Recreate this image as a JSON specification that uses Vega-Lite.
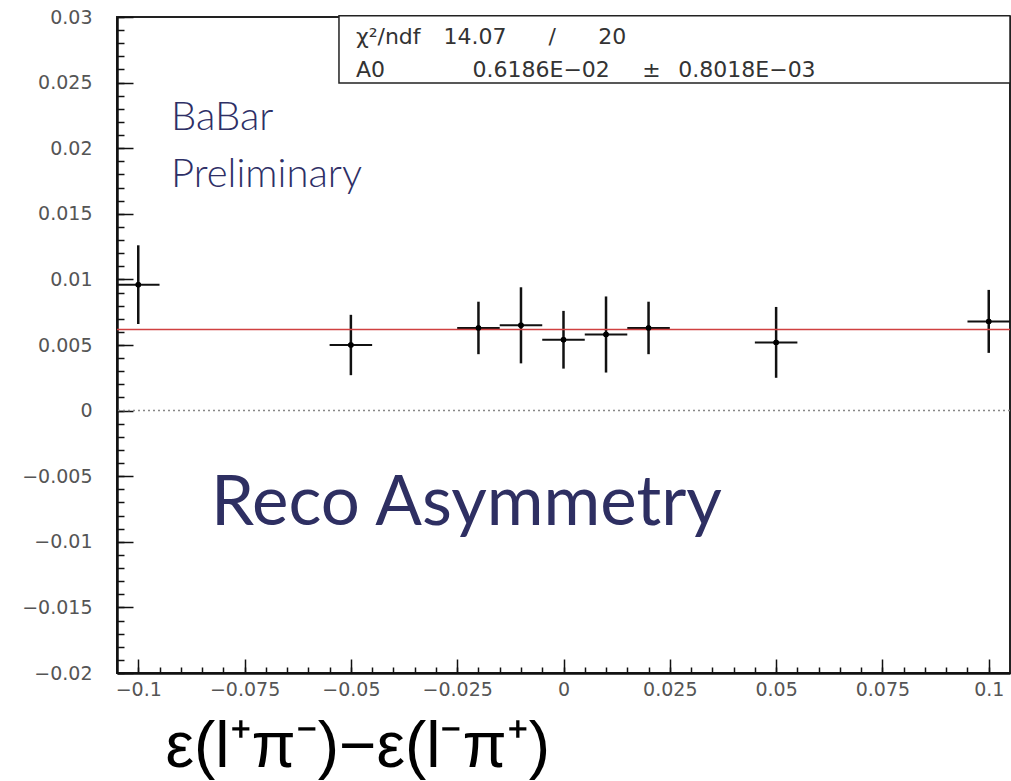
{
  "$schema": "https://vega.github.io/schema/vega-lite/v6.json",
  "autosize": {"type": "none"},
  "padding": {"left": 117, "top": 17, "right": 1, "bottom": 108},
  "width": 893,
  "height": 656,
  "background": "white",
  "config": {
    "view": {"stroke": "#222", "strokeWidth": 2},
    "font": "Liberation Sans",
    "axis": {
      "tickColor": "#111",
      "tickWidth": 1.5,
      "domainColor": "#111",
      "domainWidth": 2.5,
      "labelFontSize": 19,
      "labelColor": "#555",
      "labelFont": "DejaVu Sans",
      "labelFlush": false,
      "labelOverlap": false,
      "grid": false
    }
  },
  "resolve": {"axis": {"x": "independent", "y": "independent"}},
  "datasets": {
    "points": [
      {"x": -0.1, "y": 0.0096, "ylo": 0.0066, "yhi": 0.0126, "xlo": -0.105, "xhi": -0.095},
      {"x": -0.05, "y": 0.0050, "ylo": 0.0027, "yhi": 0.0073, "xlo": -0.055, "xhi": -0.045},
      {"x": -0.02, "y": 0.0063, "ylo": 0.0043, "yhi": 0.0083, "xlo": -0.025, "xhi": -0.015},
      {"x": -0.01, "y": 0.0065, "ylo": 0.0036, "yhi": 0.0094, "xlo": -0.015, "xhi": -0.005},
      {"x": 0.0, "y": 0.0054, "ylo": 0.0032, "yhi": 0.0076, "xlo": -0.005, "xhi": 0.005},
      {"x": 0.01, "y": 0.0058, "ylo": 0.0029, "yhi": 0.0087, "xlo": 0.005, "xhi": 0.015},
      {"x": 0.02, "y": 0.0063, "ylo": 0.0043, "yhi": 0.0083, "xlo": 0.015, "xhi": 0.025},
      {"x": 0.05, "y": 0.0052, "ylo": 0.0025, "yhi": 0.0079, "xlo": 0.045, "xhi": 0.055},
      {"x": 0.1, "y": 0.0068, "ylo": 0.0044, "yhi": 0.0092, "xlo": 0.095, "xhi": 0.105}
    ],
    "box": [
      {"x1": -0.0528, "x2": 0.105, "y1": 0.02497, "y2": 0.0301}
    ],
    "stats": [
      {"x": -0.0488, "y": 0.02794, "t": "χ²/ndf"},
      {"x": -0.0282, "y": 0.02794, "t": "14.07"},
      {"x": -0.0035, "y": 0.02794, "t": "/"},
      {"x": 0.0082, "y": 0.02794, "t": "20"},
      {"x": -0.0488, "y": 0.02543, "t": "A0"},
      {"x": -0.0214, "y": 0.02543, "t": "0.6186E−02"},
      {"x": 0.0185, "y": 0.02543, "t": "±"},
      {"x": 0.0270, "y": 0.02543, "t": "0.8018E−03"}
    ],
    "labels": [
      {"x": -0.0923, "y": 0.02139, "t": "BaBar"},
      {"x": -0.0923, "y": 0.01703, "t": "Preliminary"}
    ],
    "lines": [
      {"name": "zero", "y": 0},
      {"name": "fit", "y": 0.006186}
    ]
  },
  "layer": [
    {
      "data": {"name": "points"},
      "mark": {"type": "rule", "color": "#111", "strokeWidth": 2.5},
      "encoding": {
        "x": {"field": "x", "type": "quantitative",
          "scale": {"domain": [-0.105, 0.105], "nice": false, "zero": false},
          "axis": {
            "orient": "bottom",
            "values": [-0.1, -0.075, -0.05, -0.025, 0, 0.025, 0.05, 0.075, 0.1],
            "format": ".3~g",
            "ticks": false,
            "tickSize": 0,
            "labelPadding": 7,
            "title": "ε(l⁺π⁻)−ε(l⁻π⁺)",
            "titleFont": "Liberation Sans",
            "titleFontSize": 64,
            "titleFontWeight": "normal",
            "titleColor": "#000",
            "titleAlign": "left",
            "titleAnchor": "start",
            "titleBaseline": "alphabetic",
            "titleX": 48,
            "titleY": 93
          }
        },
        "y": {"field": "ylo", "type": "quantitative",
          "scale": {"domain": [-0.02, 0.03], "nice": false, "zero": false},
          "axis": {
            "orient": "left",
            "values": [-0.02, -0.015, -0.01, -0.005, 0, 0.005, 0.01, 0.015, 0.02, 0.025, 0.03],
            "format": ".3~g",
            "ticks": false,
            "tickSize": 0,
            "labelPadding": 25,
            "title": null
          }
        },
        "y2": {"field": "yhi"}
      }
    },
    {
      "data": {"name": "points"},
      "mark": {"type": "point", "filled": true, "color": "#000", "size": 30, "opacity": 1},
      "encoding": {
        "x": {"field": "x", "type": "quantitative",
          "axis": {
            "orient": "bottom",
            "values": [-0.1, -0.075, -0.05, -0.025, 0, 0.025, 0.05, 0.075, 0.1],
            "labels": false,
            "domain": false,
            "tickSize": 14,
            "offset": -14,
            "title": null
          }
        },
        "y": {"field": "y", "type": "quantitative",
          "axis": {
            "orient": "left",
            "values": [-0.02, -0.015, -0.01, -0.005, 0, 0.005, 0.01, 0.015, 0.02, 0.025, 0.03],
            "labels": false,
            "domain": false,
            "tickSize": 16,
            "offset": -16,
            "title": null
          }
        }
      }
    },
    {
      "data": {"name": "points"},
      "mark": {"type": "rule", "color": "#111", "strokeWidth": 2},
      "encoding": {
        "x": {"field": "xlo", "type": "quantitative",
          "axis": {
            "orient": "bottom",
            "values": [-0.1,-0.095,-0.09,-0.085,-0.08,-0.075,-0.07,-0.065,-0.06,-0.055,-0.05,-0.045,-0.04,-0.035,-0.03,-0.025,-0.02,-0.015,-0.01,-0.005,0,0.005,0.01,0.015,0.02,0.025,0.03,0.035,0.04,0.045,0.05,0.055,0.06,0.065,0.07,0.075,0.08,0.085,0.09,0.095,0.1],
            "labels": false,
            "domain": false,
            "tickSize": 6,
            "offset": -6,
            "title": null
          }
        },
        "x2": {"field": "xhi"},
        "y": {"field": "y", "type": "quantitative",
          "axis": {
            "orient": "left",
            "values": [-0.02,-0.019,-0.018,-0.017,-0.016,-0.015,-0.014,-0.013,-0.012,-0.011,-0.01,-0.009,-0.008,-0.007,-0.006,-0.005,-0.004,-0.003,-0.002,-0.001,0,0.001,0.002,0.003,0.004,0.005,0.006,0.007,0.008,0.009,0.01,0.011,0.012,0.013,0.014,0.015,0.016,0.017,0.018,0.019,0.02,0.021,0.022,0.023,0.024,0.025,0.026,0.027,0.028,0.029,0.03],
            "labels": false,
            "domain": false,
            "tickSize": 7,
            "offset": -7,
            "title": null
          }
        }
      }
    },
    {
      "data": {"name": "lines"},
      "transform": [{"filter": "datum.name == 'zero'"}],
      "mark": {"type": "rule", "color": "#888", "strokeDash": [2, 3], "strokeWidth": 1.5},
      "encoding": {"y": {"field": "y", "type": "quantitative", "axis": null}}
    },
    {
      "data": {"name": "lines"},
      "transform": [{"filter": "datum.name == 'fit'"}],
      "mark": {"type": "rule", "color": "#d04040", "strokeWidth": 1.5},
      "encoding": {"y": {"field": "y", "type": "quantitative", "axis": null}}
    },
    {
      "data": {"name": "points"},
      "mark": {"type": "point", "filled": true, "color": "#000", "size": 30, "opacity": 1},
      "encoding": {
        "x": {"field": "x", "type": "quantitative", "axis": null},
        "y": {"field": "y", "type": "quantitative", "axis": null}
      }
    },
    {
      "data": {"name": "box"},
      "mark": {"type": "rect", "fill": "white", "stroke": "#222", "strokeWidth": 1.5},
      "encoding": {
        "x": {"field": "x1", "type": "quantitative", "axis": null},
        "x2": {"field": "x2"},
        "y": {"field": "y1", "type": "quantitative", "axis": null},
        "y2": {"field": "y2"}
      }
    },
    {
      "data": {"name": "stats"},
      "mark": {"type": "text", "align": "left", "baseline": "alphabetic", "fontSize": 22, "color": "#333", "font": "DejaVu Sans"},
      "encoding": {
        "x": {"field": "x", "type": "quantitative", "axis": null},
        "y": {"field": "y", "type": "quantitative", "axis": null},
        "text": {"field": "t"}
      }
    },
    {
      "data": {"name": "labels"},
      "mark": {"type": "text", "align": "left", "baseline": "alphabetic", "fontSize": 40, "color": "#2e2f66", "font": "Lato", "fontWeight": 300},
      "encoding": {
        "x": {"field": "x", "type": "quantitative", "axis": null},
        "y": {"field": "y", "type": "quantitative", "axis": null},
        "text": {"field": "t"}
      }
    },
    {
      "data": {"values": [{"x": -0.0829, "y": -0.0087, "t": "Reco Asymmetry"}]},
      "mark": {"type": "text", "align": "left", "baseline": "alphabetic", "fontSize": 69, "color": "#2e2f62", "font": "Lato"},
      "encoding": {
        "x": {"field": "x", "type": "quantitative", "axis": null},
        "y": {"field": "y", "type": "quantitative", "axis": null},
        "text": {"field": "t"}
      }
    }
  ]
}
